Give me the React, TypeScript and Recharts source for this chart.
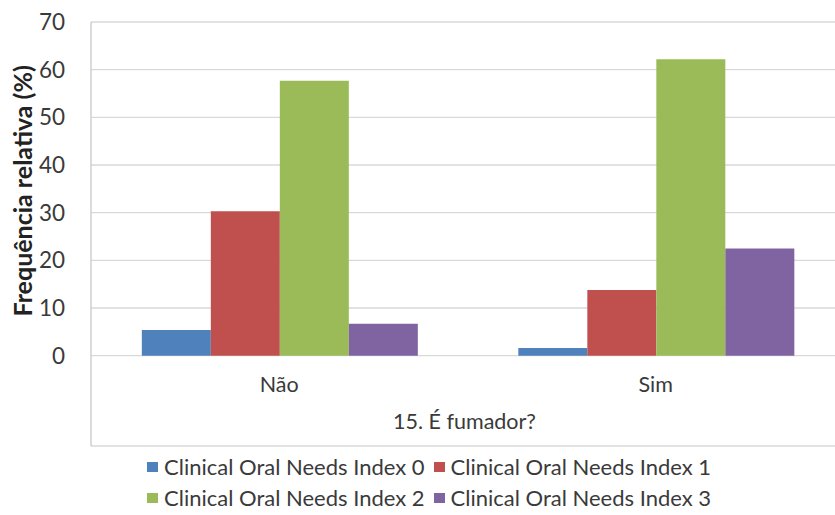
import React from 'react';
import { BarChart, Bar, XAxis, YAxis, CartesianGrid, Legend } from 'recharts';

const categories = ['Não', 'Sim'];
const index0 = [5.4, 1.6];
const index1 = [30.3, 13.8];
const index2 = [57.7, 62.2];
const index3 = [6.7, 22.5];
const seriesNames = [
  'Clinical Oral Needs Index 0',
  'Clinical Oral Needs Index 1',
  'Clinical Oral Needs Index 2',
  'Clinical Oral Needs Index 3',
];
const seriesColors = ['#4F81BD', '#C0504D', '#9BBB59', '#8064A2'];
const yTicks = [0, 10, 20, 30, 40, 50, 60, 70];
const yLabel = 'Frequência relativa (%)';
const xTitle = '15. É fumador?';

const Y_MIN = -18.95;
const Y_MAX = 70;

const data = categories.map((c, i) => ({
  name: c,
  s0: index0[i],
  s1: index1[i],
  s2: index2[i],
  s3: index3[i],
}));

const FONT = 'Lato, sans-serif';
const TEXT = '#3a3a3a';
const FS = 21.5;

const CatTick = (props: any) => {
  const { x, y, payload } = props;
  return (
    <text x={x} y={y - 54} textAnchor="middle" fontFamily={FONT} fontSize={FS} fill={TEXT}>
      {payload.value}
    </text>
  );
};

const LegendContent = () => (
  <div
    style={{
      display: 'grid',
      gridTemplateColumns: 'auto auto',
      columnGap: 9,
      rowGap: 6,
      fontFamily: FONT,
      fontSize: 22,
      color: TEXT,
      lineHeight: '25px',
    }}
  >
    {seriesNames.map((n, i) => (
      <div key={n} style={{ display: 'flex', alignItems: 'center', whiteSpace: 'nowrap' }}>
        <span style={{ width: 11, height: 10, background: seriesColors[i], marginRight: 6, display: 'inline-block' }} />
        <span>{n}</span>
      </div>
    ))}
  </div>
);

export default function App() {
  return (
    <div style={{ position: 'absolute', left: 0, top: 0, width: 835, height: 515, overflow: 'hidden', background: '#fff' }}>
      <BarChart
        width={860}
        height={515}
        data={data}
        margin={{ top: 22, right: 16, bottom: 68, left: 0 }}
        barCategoryGap="13.5%"
        barGap={0}
      >
        <CartesianGrid vertical={false} stroke="#D9D9D9" strokeWidth={1.3} />
        <XAxis
          dataKey="name"
          height={1}
          axisLine={false}
          tickLine={false}
          tickSize={0}
          tickMargin={0}
          tick={<CatTick />}
          interval={0}
          label={{
            content: (p: any) => {
              const vb = p.viewBox;
              return (
                <text x={vb.x + vb.width / 2 - 3} y={vb.y - 17} textAnchor="middle" fontFamily={FONT} fontSize={FS} fill={TEXT}>
                  {xTitle}
                </text>
              );
            },
          }}
        />
        <YAxis
          width={91}
          domain={[Y_MIN, Y_MAX]}
          ticks={yTicks}
          allowDataOverflow
          axisLine={{ stroke: '#C8C8C8', strokeWidth: 1.3 }}
          tickLine={false}
          tickSize={0}
          tickMargin={26}
          tick={{ fontFamily: FONT, fontSize: 22.5, fill: TEXT }}
          label={{
            content: (p: any) => {
              const vb = p.viewBox;
              const cy = vb.y + (vb.height * (Y_MAX / (Y_MAX - Y_MIN))) / 2 + 2;
              const cx = 32;
              return (
                <text
                  x={cx}
                  y={cy}
                  textAnchor="middle"
                  transform={`rotate(-90, ${cx}, ${cy})`}
                  fontFamily={FONT}
                  fontWeight="bold"
                  fontSize={25}
                  fill="#222"
                >
                  {yLabel}
                </text>
              );
            },
          }}
        />
        <Legend
          layout="vertical"
          align="center"
          verticalAlign="middle"
          content={<LegendContent />}
          wrapperStyle={{ position: 'absolute', left: 147, top: 454, width: 'auto' }}
        />
        <Bar dataKey="s0" name={seriesNames[0]} fill={seriesColors[0]} isAnimationActive={false} />
        <Bar dataKey="s1" name={seriesNames[1]} fill={seriesColors[1]} isAnimationActive={false} />
        <Bar dataKey="s2" name={seriesNames[2]} fill={seriesColors[2]} isAnimationActive={false} />
        <Bar dataKey="s3" name={seriesNames[3]} fill={seriesColors[3]} isAnimationActive={false} />
      </BarChart>
    </div>
  );
}
